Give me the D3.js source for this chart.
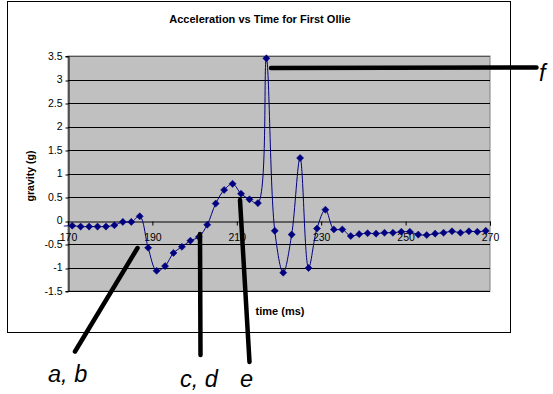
<!DOCTYPE html>
<html>
<head>
<meta charset="utf-8">
<script src="https://cdn.jsdelivr.net/npm/d3@7/dist/d3.min.js"></script>
<style>
  html, body { margin: 0; padding: 0; background: #fff; }
  svg { display: block; font-family: "Liberation Sans", Arial, sans-serif; }
</style>
</head>
<body>
<svg id="chart" width="553" height="394"></svg>
<script>
// ---- data ----
const times = [169, 171, 173, 175, 177, 179, 181, 183, 185, 187, 189, 191, 193, 195, 197, 199,
  201, 203, 205, 207, 209, 211, 213, 215, 217, 219, 221, 223, 225, 227, 229, 231, 233,
  235, 237, 239, 241, 243, 245, 247, 249, 251, 253, 255, 257, 259, 261, 263, 265, 267, 269];
const gravity = [-0.12, -0.11, -0.13, -0.13, -0.13, -0.13, -0.10, -0.03, -0.03, 0.09, -0.58, -1.07,
  -0.97, -0.69, -0.56, -0.43, -0.35, -0.09, 0.36, 0.65, 0.78, 0.57, 0.45, 0.37, 3.45,
  -0.22, -1.11, -0.30, 1.33, -1.01, -0.17, 0.23, -0.19, -0.19, -0.33, -0.29, -0.27,
  -0.28, -0.26, -0.26, -0.24, -0.24, -0.30, -0.31, -0.28, -0.26, -0.23, -0.26, -0.23,
  -0.24, -0.22];
const xTickValues = [170, 190, 210, 230, 250, 270];
const yTickValues = [-1.5, -1, -0.5, 0, 0.5, 1, 1.5, 2, 2.5, 3, 3.5];
const yTickLabels = ["-1.5", "-1", "-0.5", "0", "0.5", "1", "1.5", "2", "2.5", "3", "3.5"];
const title = "Acceleration vs Time for First Ollie";
const xTitle = "time (ms)";
const yTitle = "gravity (g)";
// annotations: label and pointer line endpoints in page units
const annotations = [
  { label: "a, b", line: [[137.5, 248], [75, 351.5]], text: [48, 382] },
  { label: "c, d", line: [[200, 234], [200.5, 355]], text: [180, 387] },
  { label: "e",    line: [[240, 200], [249.5, 362]], text: [240, 387] },
  { label: "f",    line: [[271, 68], [536.5, 67.5]], text: [539, 81] }
];

const svg = d3.select("#chart");
const W = 553, H = 394;
const plot = { left: 68, right: 490, top: 56, bottom: 291 };

svg.append("rect").attr("width", W).attr("height", H).attr("fill", "#fff");
// outer chart border
svg.append("rect").attr("x", 7.5).attr("y", 1.5).attr("width", 503).attr("height", 331)
  .attr("fill", "none").attr("stroke", "#000").attr("stroke-width", 1);

const x = d3.scaleLinear().domain([170, 270]).range([plot.left, plot.right]);
const y = d3.scaleLinear().domain([-1.5, 3.5]).range([plot.bottom, plot.top]);

// plot area
svg.append("rect").attr("x", plot.left).attr("y", plot.top)
  .attr("width", plot.right - plot.left).attr("height", plot.bottom - plot.top)
  .attr("fill", "#c0c0c0").attr("stroke", "#808080").attr("stroke-width", 1);

// gridlines
svg.append("g").selectAll("line").data(yTickValues.filter(v => v !== 0)).join("line")
  .attr("x1", plot.left).attr("x2", plot.right)
  .attr("y1", d => Math.round(y(d)) + 0.5).attr("y2", d => Math.round(y(d)) + 0.5)
  .attr("stroke", d => d === 3.5 ? "#555" : "#000").attr("stroke-width", 1);

// y axis
const yAxis = d3.axisLeft(y).tickValues(yTickValues).tickSize(3).tickPadding(3)
  .tickFormat((d, i) => yTickLabels[i]);
const gy = svg.append("g").attr("transform", `translate(${plot.left + 0.5},0)`).call(yAxis);
gy.select(".domain").attr("stroke", "#000");
gy.selectAll(".tick line").attr("stroke", "#000")
  .attr("transform", d => `translate(0,${Math.round(y(d)) + 0.5 - y(d)})`);
gy.selectAll(".tick text").attr("font-size", 10.5).attr("fill", "#000")
  .attr("font-family", "Liberation Sans, Arial, sans-serif");

// x axis at y = 0
const xAxis = d3.axisBottom(x).tickValues(xTickValues).tickSize(4).tickPadding(8)
  .tickFormat(d3.format("d"));
const gx = svg.append("g").attr("transform", `translate(0,${Math.round(y(0)) + 0.5})`).call(xAxis);
gx.select(".domain").attr("stroke", "#000");
gx.selectAll(".tick line").attr("stroke", "#000");
gx.selectAll(".tick text").attr("font-size", 10.5).attr("fill", "#000")
  .attr("font-family", "Liberation Sans, Arial, sans-serif");

// data line
const pts = times.map((t, i) => [t, gravity[i]]);
const line = d3.line().x(d => x(d[0])).y(d => y(d[1])).curve(d3.curveCatmullRom.alpha(0.5));
svg.append("path").attr("d", line(pts)).attr("fill", "none")
  .attr("stroke", "#000080").attr("stroke-width", 1);

// markers (diamonds)
const diamond = d3.symbol().type(d3.symbolSquare).size(25)();
svg.append("g").selectAll("path").data(pts.filter(d => d[0] >= 170 && d[0] <= 270)).join("path")
  .attr("d", diamond)
  .attr("transform", d => `translate(${x(d[0])},${y(d[1])}) rotate(45)`)
  .attr("fill", "#000080").attr("stroke", "#000080").attr("stroke-width", 0.5);

// titles
svg.append("text").attr("x", 260).attr("y", 23).attr("text-anchor", "middle")
  .attr("font-size", 11).attr("font-weight", "bold").text(title);
svg.append("text").attr("x", 280).attr("y", 315).attr("text-anchor", "middle")
  .attr("font-size", 11).attr("font-weight", "bold").text(xTitle);
svg.append("text").attr("transform", "translate(34,176) rotate(-90)").attr("text-anchor", "middle")
  .attr("font-size", 10.5).attr("font-weight", "bold").text(yTitle);

// annotations
const ga = svg.append("g");
annotations.forEach(a => {
  ga.append("line").attr("x1", a.line[0][0]).attr("y1", a.line[0][1])
    .attr("x2", a.line[1][0]).attr("y2", a.line[1][1])
    .attr("stroke", "#000").attr("stroke-width", 4.5).attr("stroke-linecap", "round");
  ga.append("text").attr("x", a.text[0]).attr("y", a.text[1])
    .attr("font-size", 23.5).attr("font-style", "italic").attr("fill", "#000").text(a.label);
});
</script>
</body>
</html>
